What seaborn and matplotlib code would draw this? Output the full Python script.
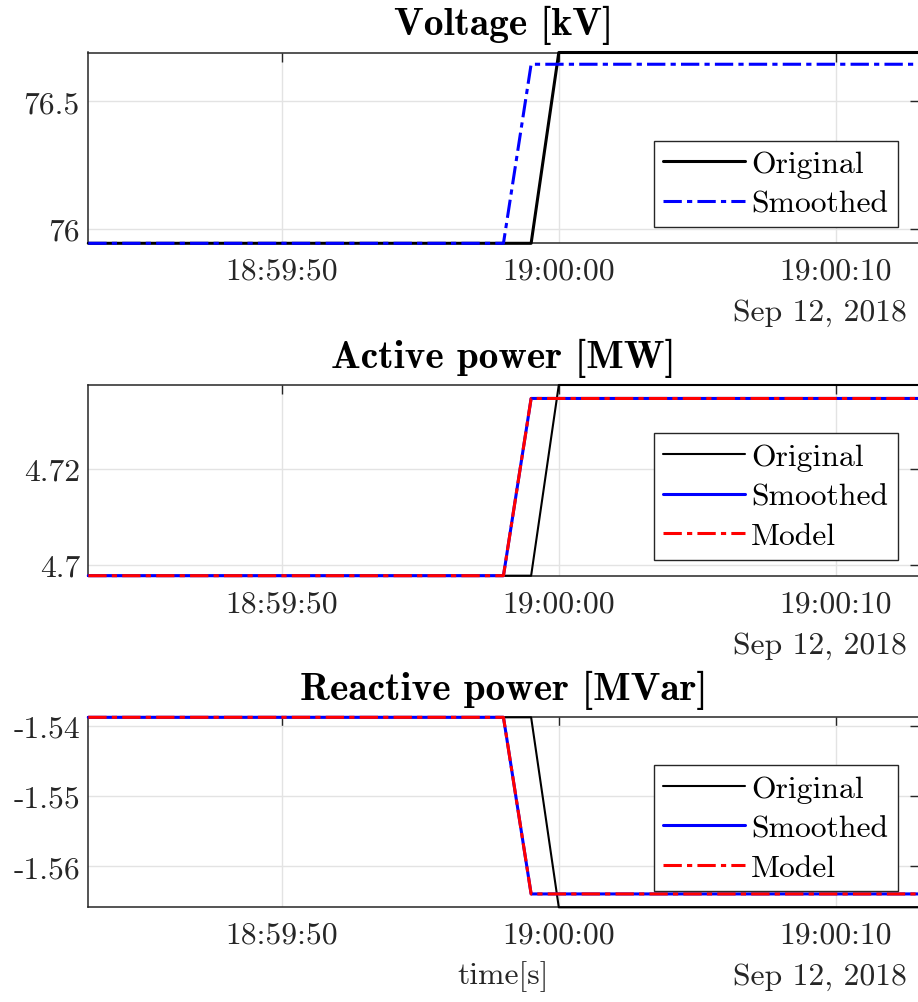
import matplotlib
matplotlib.use("Agg")
import matplotlib.pyplot as plt
import matplotlib.dates as mdates
import pandas as pd
import seaborn as sns

# ---- data (breakpoints of the recorded step, 1 s sampling) ----
day = "2018-09-12 "
t_orig = pd.to_datetime([day + "18:59:43", day + "18:59:59", day + "19:00:00", day + "19:00:13"])
t_smooth = pd.to_datetime([day + "18:59:43", day + "18:59:58", day + "18:59:59", day + "19:00:13"])

voltage_orig = [75.944, 75.944, 76.691, 76.691]
voltage_smooth = [75.944, 75.944, 76.645, 76.645]

active_orig = [4.6978, 4.6978, 4.7375, 4.7375]
active_smooth = [4.6978, 4.6978, 4.7347, 4.7347]
active_model = [4.6978, 4.6978, 4.7347, 4.7347]

reactive_orig = [-1.5388, -1.5388, -1.5658, -1.5658]
reactive_smooth = [-1.5388, -1.5388, -1.5639, -1.5639]
reactive_model = [-1.5388, -1.5388, -1.5639, -1.5639]

titles = ["Voltage [kV]", "Active power [MW]", "Reactive power [MVar]"]
x_ticks = pd.to_datetime([day + "18:59:50", day + "19:00:00", day + "19:00:10"])
x_range = pd.to_datetime([day + "18:59:43", day + "19:00:13"])
y_ticks = [[76, 76.5], [4.70, 4.72], [-1.56, -1.55, -1.54]]
y_ticklabels = [["76", "76.5"], ["4.7", "4.72"], ["-1.56", "-1.55", "-1.54"]]
date_label = "Sep 12, 2018"

# ---- style ----
sns.set_theme(style="white")
plt.rcParams["font.family"] = ["cmr10", "DejaVu Serif"]
plt.rcParams["axes.unicode_minus"] = False
plt.rcParams["axes.formatter.use_mathtext"] = True

FS = 22.8
TITLE_FS = 28.4
AX_COLOR = "#262626"
dashdot = (0, (6, 1.7, 1.7, 1.7))

W, H = 918, 1003
fig = plt.figure(figsize=(W / 100, H / 100), dpi=100)

def px_axes(left, top, right, bottom):
    return fig.add_axes([left / W, 1 - bottom / H, (right - left) / W, (bottom - top) / H])

axes = [
    px_axes(88.3, 53.5, 918.6, 244.3),
    px_axes(88.3, 386.0, 918.6, 576.7),
    px_axes(88.3, 718.3, 918.6, 908.3),
]

series = [
    [("Original", t_orig, voltage_orig, "black", 2.2, "-"),
     ("Smoothed", t_smooth, voltage_smooth, "blue", 2.2, dashdot)],
    [("Original", t_orig, active_orig, "black", 1.5, "-"),
     ("Smoothed", t_smooth, active_smooth, "blue", 2.2, "-"),
     ("Model", t_smooth, active_model, "red", 2.2, dashdot)],
    [("Original", t_orig, reactive_orig, "black", 1.5, "-"),
     ("Smoothed", t_smooth, reactive_smooth, "blue", 2.2, "-"),
     ("Model", t_smooth, reactive_model, "red", 2.2, dashdot)],
]

ylims = [
    (min(voltage_orig + voltage_smooth), max(voltage_orig + voltage_smooth)),
    (min(active_orig + active_smooth), max(active_orig + active_smooth)),
    (min(reactive_orig + reactive_smooth), max(reactive_orig + reactive_smooth)),
]

for i, ax in enumerate(axes):
    for label, tx, vals, color, lw, ls in series[i]:
        sns.lineplot(x=tx, y=vals, ax=ax, color=color, linewidth=lw,
                     linestyle=ls, label=label, sort=False, estimator=None,
                     clip_on=False, zorder=3)
    ax.set_xlim(x_range[0], x_range[1])
    ax.set_ylim(*ylims[i])
    ax.set_xticks(x_ticks)
    ax.xaxis.set_major_formatter(mdates.DateFormatter("%H:%M:%S"))
    ax.set_yticks(y_ticks[i])
    ax.set_yticklabels(y_ticklabels[i])
    ax.set_xlabel("")
    ax.set_ylabel("")

    ax.grid(True, color="#e3e3e3", linewidth=1.0, zorder=0)
    ax.set_axisbelow(True)
    for sp in ax.spines.values():
        sp.set_visible(True)
        sp.set_color(AX_COLOR)
        sp.set_linewidth(1.1)
    ax.tick_params(direction="in", top=True, right=True, length=6.2,
                   width=1.0, color=AX_COLOR, labelcolor=AX_COLOR,
                   labelsize=FS, pad=10)
    ax.tick_params(axis="y", pad=6)

    ax.set_title(titles[i], fontsize=TITLE_FS, fontfamily="cmb10",
                 color="black", pad=13)

    ax.annotate(date_label, xy=(1, 0), xycoords="axes fraction",
                xytext=(-12, -69), textcoords="offset pixels",
                ha="right", va="center", fontsize=FS, color=AX_COLOR)

    leg = ax.legend(loc="lower right", bbox_to_anchor=(1 - 21 / 830, 16 / 191),
                    bbox_transform=ax.transAxes, fontsize=FS, frameon=True,
                    fancybox=False, framealpha=1, edgecolor=AX_COLOR,
                    handlelength=2.6, handletextpad=0.18, labelspacing=0.36,
                    borderpad=0.3, borderaxespad=0)
    leg.get_frame().set_linewidth(1.0)
    for txt in leg.get_texts():
        txt.set_color("black")

axes[2].set_xlabel("time[s]", fontsize=FS, color=AX_COLOR, labelpad=8)

fig.savefig("out.png", dpi=100)
